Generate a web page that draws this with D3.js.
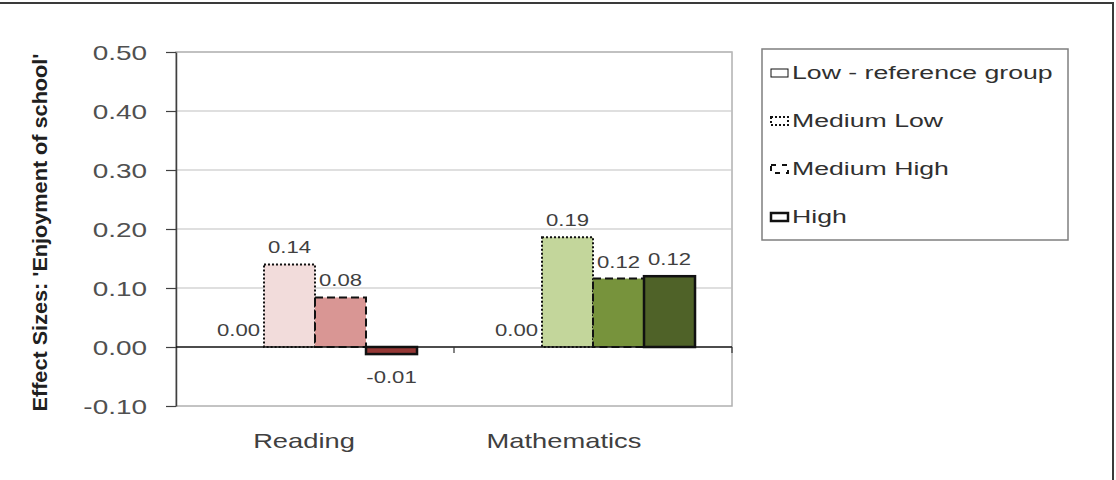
<!DOCTYPE html>
<html>
<head>
<meta charset="utf-8">
<script src="https://cdn.jsdelivr.net/npm/d3@7"></script>
<style>
  html, body { margin: 0; padding: 0; background: #fff; }
  svg { display: block; font-family: "Liberation Sans", Arial, sans-serif; }
</style>
</head>
<body>
<div id="chart"></div>
<script>
// data
const categories = ['Reading', 'Mathematics'];
const seriesNames = ['Low - reference group', 'Medium Low', 'Medium High', 'High'];
const readingValues = [0.00, 0.14, 0.084, -0.012];
const mathValues = [0.00, 0.186, 0.116, 0.12];
const yTicks = [-0.1, 0, 0.1, 0.2, 0.3, 0.4, 0.5];
const yTitle = "Effect Sizes: 'Enjoyment of school'";

const readingColors = ['#ffffff', '#f2dcdb', '#d99694', '#953735'];
const mathColors = ['#ffffff', '#c3d69b', '#77933c', '#4f6228'];
const dashes = [null, '2,2', '8,4', null];
const strokeW = [0, 2, 2, 2.5];

const width = 1116, height = 480;
const plot = { left: 176, right: 732, top: 52, bottom: 406 };

// the original text is drawn wide, so stretch each label by a factor
function stretch(sel, factor) {
  sel.each(function() {
    const w = this.getComputedTextLength();
    d3.select(this)
      .attr('textLength', w * factor)
      .attr('lengthAdjust', 'spacingAndGlyphs');
  });
}

const svg = d3.select('#chart').append('svg')
  .attr('width', width)
  .attr('height', height);

// outer frame
svg.append('rect')
  .attr('x', -5).attr('y', 3)
  .attr('width', 1118).attr('height', 490)
  .attr('fill', 'none')
  .attr('stroke', '#3a3a3a')
  .attr('stroke-width', 2);

const y = d3.scaleLinear().domain([-0.1, 0.5]).range([plot.bottom, plot.top]);
const x0 = d3.scaleBand().domain(categories).range([plot.left, plot.right]);
const x1 = d3.scaleBand().domain(seriesNames).range([0, x0.bandwidth()])
  .paddingInner(0).paddingOuter(0.725);

// plot area border
svg.append('rect')
  .attr('x', plot.left).attr('y', plot.top)
  .attr('width', plot.right - plot.left).attr('height', plot.bottom - plot.top)
  .attr('fill', 'none')
  .attr('stroke', '#b0b0b0')
  .attr('stroke-width', 1.5);

// gridlines
svg.append('g')
  .selectAll('line')
  .data(yTicks.filter(d => d > 0))
  .enter().append('line')
  .attr('x1', plot.left).attr('x2', plot.right)
  .attr('y1', d => y(d)).attr('y2', d => y(d))
  .attr('stroke', '#c0c0c0')
  .attr('stroke-width', 1.2);

// y axis
const yAxis = svg.append('g')
  .attr('transform', `translate(${plot.left},0)`)
  .call(d3.axisLeft(y).tickValues(yTicks).tickFormat(d => d.toFixed(2))
    .tickSize(10).tickPadding(19).tickSizeOuter(0));
yAxis.select('.domain').attr('stroke', '#404040').attr('stroke-width', 1.5);
yAxis.selectAll('.tick line').attr('stroke', '#404040').attr('stroke-width', 1.2);
yAxis.selectAll('.tick text')
  .attr('fill', '#505050')
  .style('font-size', '21px')
  .attr('dy', '0.36em')
  .call(stretch, 1.33);

// y title
svg.append('text')
  .attr('transform', `translate(47,${(53 + 412) / 2}) rotate(-90)`)
  .attr('text-anchor', 'middle')
  .attr('textLength', 358)
  .attr('lengthAdjust', 'spacingAndGlyphs')
  .style('font-family', '"Liberation Sans Narrow", "Liberation Sans", Arial, sans-serif')
  .style('font-weight', 'bold')
  .style('font-size', '20px')
  .attr('fill', '#202020')
  .text(yTitle);

// bars
const groups = [
  { cat: 'Reading', values: readingValues, colors: readingColors },
  { cat: 'Mathematics', values: mathValues, colors: mathColors }
];

const bars = svg.append('g');
groups.forEach(g => {
  const gx = x0(g.cat);
  seriesNames.forEach((s, i) => {
    const v = g.values[i];
    if (v === 0) return;
    bars.append('rect')
      .attr('x', gx + x1(s))
      .attr('y', y(Math.max(0, v)))
      .attr('width', x1.bandwidth())
      .attr('height', Math.abs(y(v) - y(0)))
      .attr('fill', g.colors[i])
      .attr('stroke', '#111')
      .attr('stroke-width', strokeW[i])
      .attr('stroke-dasharray', dashes[i]);
  });
});

// zero line and category ticks
svg.append('line')
  .attr('x1', plot.left).attr('x2', plot.right)
  .attr('y1', y(0)).attr('y2', y(0))
  .attr('stroke', '#111').attr('stroke-width', 1.5);
svg.append('g')
  .selectAll('line')
  .data([x0('Mathematics'), plot.right])
  .enter().append('line')
  .attr('x1', d => d).attr('x2', d => d)
  .attr('y1', y(0)).attr('y2', y(0) + 6)
  .attr('stroke', '#333').attr('stroke-width', 1.2);

// value labels
const labels = svg.append('g');
groups.forEach(g => {
  const gx = x0(g.cat);
  seriesNames.forEach((s, i) => {
    const v = g.values[i];
    labels.append('text')
      .attr('x', gx + x1(s) + x1.bandwidth() / 2)
      .attr('y', v >= 0 ? y(v) - 11 : y(v) + 29)
      .attr('text-anchor', 'middle')
      .style('font-size', '17px')
      .attr('fill', '#404040')
      .text(v.toFixed(2));
  });
});
labels.selectAll('text').call(stretch, 1.3);

// category labels
svg.append('g')
  .selectAll('text')
  .data(categories)
  .enter().append('text')
  .attr('x', (d, i) => x0(d) + x0.bandwidth() / 2 + (i === 0 ? -11 : -29))
  .attr('y', 448)
  .attr('text-anchor', 'middle')
  .style('font-size', '21px')
  .attr('fill', '#404040')
  .text(d => d)
  .call(stretch, 1.3);

// legend
const legend = svg.append('g');
legend.append('rect')
  .attr('x', 762).attr('y', 49)
  .attr('width', 306).attr('height', 191)
  .attr('fill', '#fff')
  .attr('stroke', '#7f7f7f')
  .attr('stroke-width', 1.5);

const legendY = d3.scalePoint().domain(seriesNames).range([73, 217]);
seriesNames.forEach((s, i) => {
  legend.append('rect')
    .attr('x', 771).attr('y', legendY(s) - 4)
    .attr('width', 17).attr('height', 8)
    .attr('fill', '#fff')
    .attr('stroke', '#111')
    .attr('stroke-width', i === 0 ? 1 : (i === 3 ? 2.5 : 2))
    .attr('stroke-dasharray', i === 1 ? '2,2' : (i === 2 ? '5,6' : null));
  legend.append('text')
    .attr('x', 792).attr('y', legendY(s))
    .attr('dy', '0.36em')
    .style('font-size', '18px')
    .attr('fill', '#303030')
    .text(s);
});
legend.selectAll('text').call(stretch, 1.48);
</script>
</body>
</html>
